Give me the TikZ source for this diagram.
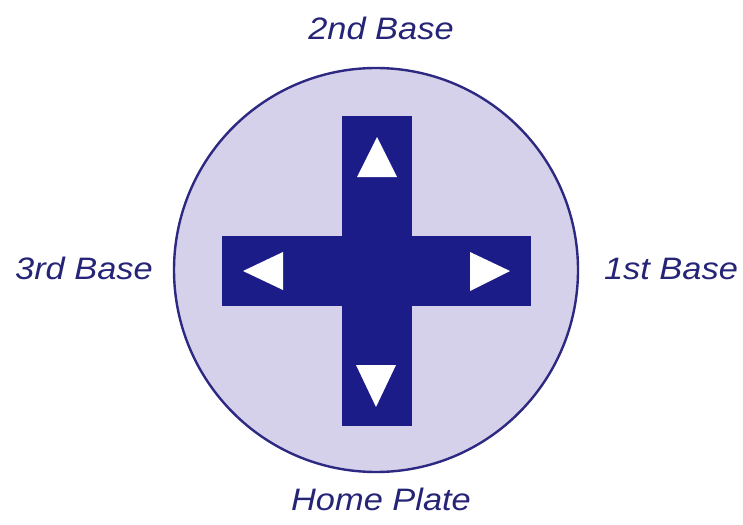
\documentclass[tikz,border=0pt]{standalone}
\usepackage{fontspec}
\setmainfont{Liberation Sans}
\definecolor{crossblue}{RGB}{28,28,136}
\definecolor{discfill}{RGB}{214,209,234}
\definecolor{rimblue}{RGB}{45,40,130}
\definecolor{labelblue}{RGB}{38,36,118}
\tikzset{
  lbl/.style={anchor=base, text=labelblue, inner sep=0pt, font=\fontsize{31}{31}\selectfont\itshape},
  barshape/.style={fill=crossblue, draw=none},
  tri/.style={fill=white, draw=none}
}
\begin{document}
\begin{tikzpicture}[x=1pt,y=-1pt]
\useasboundingbox (0,0) rectangle (743,524);
\fill[white] (0,0) rectangle (743,524);
\node[circle, minimum size=404pt, inner sep=0pt, fill=discfill, draw=rimblue, line width=2.4pt] (disc) at (376,270) {};
\fill[barshape] (342,116) rectangle (412,426);
\fill[barshape] (222,236) rectangle (531,306);
\fill[tri] (377,137) -- (397,177) -- (357,177) -- cycle;
\fill[tri] (376,407) -- (396,365) -- (356,365) -- cycle;
\fill[tri] (243,271) -- (283,252) -- (283,290) -- cycle;
\fill[tri] (510,271) -- (470,252) -- (470,291) -- cycle;
\node[lbl] (second) at (381,40) {\scalebox{1.11}[1]{2nd Base}};
\node[lbl] (third) at (84,279) {\scalebox{1.11}[1]{3rd Base}};
\node[lbl] (first) at (671,279) {\scalebox{1.11}[1]{1st Base}};
\node[lbl] (home) at (381,510) {\scalebox{1.11}[1]{Home Plate}};
\end{tikzpicture}
\end{document}
